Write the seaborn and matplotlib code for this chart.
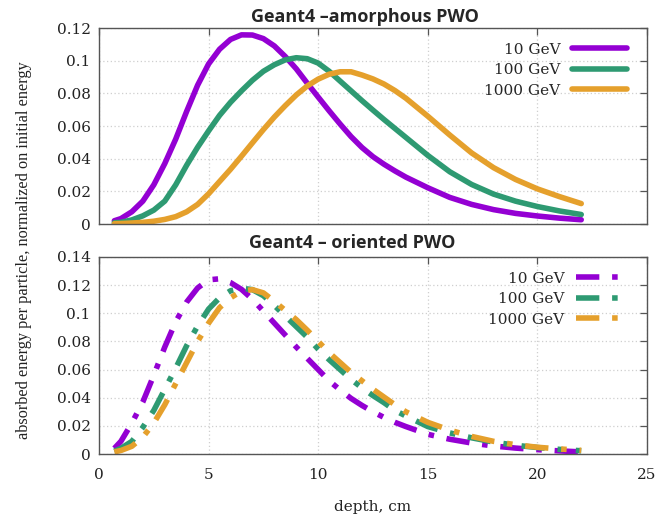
import matplotlib
matplotlib.use("Agg")
import matplotlib.pyplot as plt
import matplotlib.ticker as mticker
import pandas as pd
import seaborn as sns

# ---- data ----
depth = [0.7, 1.0, 1.5, 2.0, 2.5, 3.0, 3.5, 4.0, 4.5, 5.0, 5.5, 6.0, 6.5, 7.0,
         7.5, 8.0, 8.5, 9.0, 9.5, 10.0, 10.5, 11.0, 11.5, 12.0, 12.5, 13.0,
         13.5, 14.0, 15, 16, 17, 18, 19, 20, 21, 22]
energies = ["10 GeV", "100 GeV", "1000 GeV"]

amorphous_10 = [0.0020, 0.0033, 0.0075, 0.0140, 0.0240, 0.0370, 0.0520, 0.0690,
                0.0850, 0.0980, 0.1070, 0.1130, 0.1158, 0.1157, 0.1135, 0.1090,
                0.1025, 0.0950, 0.0862, 0.0777, 0.0693, 0.0612, 0.0535, 0.0468,
                0.0412, 0.0366, 0.0325, 0.0287, 0.0222, 0.0163, 0.0120, 0.0088,
                0.0065, 0.0049, 0.0036, 0.0026]
amorphous_100 = [0.0008, 0.0010, 0.0025, 0.0050, 0.0085, 0.0140, 0.0240, 0.0360,
                 0.0470, 0.0570, 0.0665, 0.0745, 0.0815, 0.0880, 0.0935, 0.0975,
                 0.1005, 0.1018, 0.1012, 0.0985, 0.0935, 0.0875, 0.0815, 0.0755,
                 0.0697, 0.0640, 0.0585, 0.0530, 0.0420, 0.0320, 0.0242, 0.0183,
                 0.0140, 0.0107, 0.0080, 0.0058]
amorphous_1000 = [0.0002, 0.0003, 0.0006, 0.0010, 0.0017, 0.0028, 0.0045, 0.0075,
                  0.0120, 0.0185, 0.0260, 0.0335, 0.0415, 0.0497, 0.0578, 0.0655,
                  0.0725, 0.0790, 0.0845, 0.0887, 0.0917, 0.0932, 0.0932, 0.0912,
                  0.0888, 0.0857, 0.0817, 0.0770, 0.0660, 0.0545, 0.0435, 0.0345,
                  0.0273, 0.0215, 0.0168, 0.0125]

oriented_10 = [0.0040, 0.0090, 0.0220, 0.0370, 0.0560, 0.0760, 0.0940, 0.1080,
               0.1180, 0.1238, 0.1245, 0.1218, 0.1170, 0.1100, 0.1015, 0.0930,
               0.0845, 0.0760, 0.0680, 0.0600, 0.0520, 0.0455, 0.0395, 0.0345,
               0.0300, 0.0260, 0.0225, 0.0195, 0.0140, 0.0105, 0.0078, 0.0057,
               0.0042, 0.0031, 0.0022, 0.0015]
oriented_100 = [0.0020, 0.0040, 0.0090, 0.0190, 0.0310, 0.0460, 0.0610, 0.0770,
                0.0910, 0.1030, 0.1110, 0.1160, 0.1178, 0.1168, 0.1125, 0.1055,
                0.0980, 0.0905, 0.0830, 0.0745, 0.0670, 0.0600, 0.0530, 0.0470,
                0.0415, 0.0365, 0.0310, 0.0270, 0.0195, 0.0150, 0.0115, 0.0085,
                0.0062, 0.0046, 0.0033, 0.0023]
oriented_1000 = [0.0015, 0.0025, 0.0055, 0.0120, 0.0220, 0.0350, 0.0500, 0.0650,
                 0.0800, 0.0930, 0.1040, 0.1110, 0.1158, 0.1168, 0.1145, 0.1085,
                 0.1020, 0.0955, 0.0880, 0.0800, 0.0720, 0.0650, 0.0580, 0.0520,
                 0.0460, 0.0405, 0.0350, 0.0300, 0.0225, 0.0170, 0.0125, 0.0090,
                 0.0066, 0.0048, 0.0036, 0.0026]

colors = ["#9400d3", "#2e9a72", "#e5a02c"]
x_ticks = [0, 5, 10, 15, 20, 25]
y_ticks_top = [0, 0.02, 0.04, 0.06, 0.08, 0.1, 0.12]
y_ticks_bottom = [0, 0.02, 0.04, 0.06, 0.08, 0.1, 0.12, 0.14]


def long_frame(series):
    frames = [pd.DataFrame({"depth": depth, "value": vals, "energy": e})
              for e, vals in zip(energies, series)]
    return pd.concat(frames, ignore_index=True)


sns.set_theme(style="white")
plt.rcParams["font.family"] = ["DejaVu Serif"]

W, H = 658, 518
fig = plt.figure(figsize=(W / 100, H / 100), dpi=100)
ax1 = fig.add_axes([99 / W, 1 - 224 / H, 548 / W, 196 / H])
ax2 = fig.add_axes([99 / W, 1 - 454 / H, 548 / W, 197 / H])

pal = dict(zip(energies, colors))
dash_pat = {e: (4.2, 2.3, 1.0, 2.3) for e in energies}

sns.lineplot(data=long_frame([amorphous_10, amorphous_100, amorphous_1000]),
             x="depth", y="value", hue="energy", palette=pal, lw=4, ax=ax1,
             sort=False, solid_joinstyle="round")
sns.lineplot(data=long_frame([oriented_10, oriented_100, oriented_1000]),
             x="depth", y="value", hue="energy", style="energy", dashes=dash_pat,
             palette=pal, lw=4, ax=ax2, sort=False, dash_joinstyle="round")

fmt = mticker.FuncFormatter(lambda v, p: f"{v:g}")
for ax, yt in ((ax1, y_ticks_top), (ax2, y_ticks_bottom)):
    ax.set_xlim(0, 25)
    ax.set_ylim(yt[0], yt[-1])
    ax.set_xticks(x_ticks)
    ax.set_yticks(yt)
    ax.yaxis.set_major_formatter(fmt)
    ax.set_xlabel("")
    ax.set_ylabel("")
    ax.grid(True, color="#cfcfcf", linestyle=(0, (1, 2)), lw=0.9)
    ax.tick_params(direction="in", top=True, right=True, length=5, width=0.9,
                   color="#555555", labelsize=11, labelcolor="#222222")
    ax.tick_params(axis="y", pad=6)
    ax.tick_params(axis="x", pad=10)
    for s in ax.spines.values():
        s.set_color("#555555")
        s.set_linewidth(1.0)
    handles, labels = ax.get_legend_handles_labels()
    ax.legend(handles, labels, loc="upper right",
              bbox_to_anchor=(0.9635, 0.925),
              frameon=False, markerfirst=False,
              handlelength=3.6 if ax is ax1 else 3.35,
              handletextpad=0.75, labelspacing=0.42, fontsize=11,
              borderaxespad=0, borderpad=0)
ax1.tick_params(labelbottom=False)

title_font = ["Open Sans", "DejaVu Sans"]
fig.text(365 / W, 1 - 17 / H, "Geant4 –amorphous PWO", ha="center", va="center",
         fontsize=13, fontweight="bold", family=title_font)
fig.text(352 / W, 1 - 243 / H, "Geant4 – oriented PWO", ha="center", va="center",
         fontsize=13, fontweight="bold", family=title_font)
fig.text(24 / W, 1 - 250 / H,
         "absorbed energy per particle, normalized on initial energy",
         rotation=90, ha="center", va="center", fontsize=11.7, color="#222222",
         family=["Liberation Serif", "DejaVu Serif"])
fig.text(373 / W, 1 - 507 / H, "depth, cm", ha="center", va="center",
         fontsize=11, color="#222222")

fig.savefig("out.png", dpi=100)
